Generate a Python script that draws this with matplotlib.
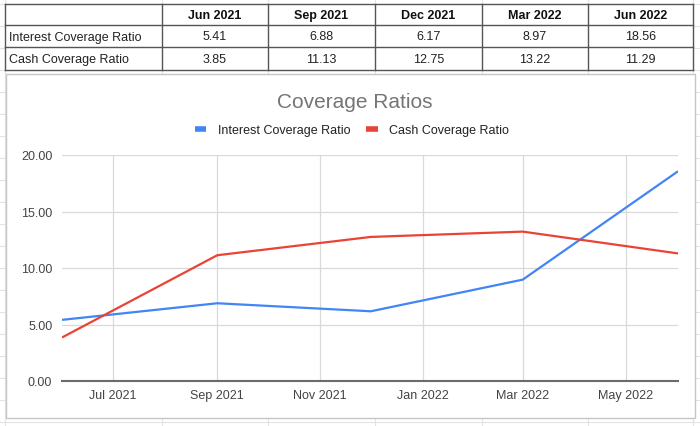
import datetime as dt
import matplotlib
matplotlib.use("Agg")
import matplotlib.pyplot as plt
import matplotlib.dates as mdates
from matplotlib.lines import Line2D
from matplotlib.patches import Rectangle

plt.rcParams['font.family'] = ['Liberation Sans', 'DejaVu Sans']

# data
periods = ['Jun 2021', 'Sep 2021', 'Dec 2021', 'Mar 2022', 'Jun 2022']
dates = [dt.date(2021, 6, 1), dt.date(2021, 9, 1), dt.date(2021, 12, 1),
         dt.date(2022, 3, 1), dt.date(2022, 6, 1)]
interest_cov = [5.41, 6.88, 6.17, 8.97, 18.56]
cash_cov = [3.85, 11.13, 12.75, 13.22, 11.29]
series_names = ['Interest Coverage Ratio', 'Cash Coverage Ratio']

W, H = 700, 427
fig = plt.figure(figsize=(W / 100, H / 100), dpi=100)


def fx(px):
    return px / W


def fy(py):
    return 1 - py / H


def hline(y, x0, x1, color, lw=1.0, z=2):
    fig.add_artist(Line2D([fx(x0), fx(x1)], [fy(y), fy(y)], color=color,
                          lw=lw, zorder=z))


def vline(x, y0, y1, color, lw=1.0, z=2):
    fig.add_artist(Line2D([fx(x), fx(x)], [fy(y0), fy(y1)], color=color,
                          lw=lw, zorder=z))


# spreadsheet background grid
sheet_grid = '#e2e3e3'
col_edges = [5, 162, 268, 375, 482, 588, 693]
for x in col_edges:
    vline(x, 0, H, sheet_grid, 0.8, z=0)
for y in range(5, H, 22):
    hline(y, 0, W, sheet_grid, 0.8, z=0)

# table
row_edges = [5, 26, 48, 71]
fig.add_artist(Rectangle((fx(5), fy(71)), fx(693 - 5), (71 - 5) / H,
                         facecolor='white', edgecolor='none', zorder=1))
for y in row_edges:
    hline(y, 5, 693, '#555555', 1.0)
for x in col_edges:
    vline(x, 5, 71, '#555555', 1.0)

for i, p in enumerate(periods):
    xc = (col_edges[i + 1] + col_edges[i + 2]) / 2
    fig.text(fx(xc), fy(16), p, ha='center', va='center', fontsize=9,
             fontweight='bold', color='#111111')
    fig.text(fx(xc), fy(37.5), f'{interest_cov[i]:.2f}', ha='center',
             va='center', fontsize=9, color='#222222')
    fig.text(fx(xc), fy(60), f'{cash_cov[i]:.2f}', ha='center',
             va='center', fontsize=9, color='#222222')
fig.text(fx(9), fy(37.5), series_names[0], ha='left', va='center',
         fontsize=9, color='#222222')
fig.text(fx(9), fy(60), series_names[1], ha='left', va='center',
         fontsize=9, color='#222222')

# chart box
fig.add_artist(Rectangle((fx(6), fy(419)), fx(695 - 6), (419 - 75) / H,
                         facecolor='white', edgecolor='#c6c6c6', lw=1.0,
                         zorder=2))

ax = fig.add_axes([fx(62), fy(382), fx(678 - 62), (382 - 156) / H], zorder=3)
ax.patch.set_alpha(0)

blue = '#4285F4'
red = '#EA4335'
ax.plot(dates, interest_cov, color=blue, lw=1.6, label=series_names[0],
        solid_capstyle='butt', zorder=3)
ax.plot(dates, cash_cov, color=red, lw=1.6, label=series_names[1],
        solid_capstyle='butt', zorder=3)

ax.set_xlim(dates[0], dates[-1])
ax.set_ylim(0, 20)
ax.set_yticks([0, 5, 10, 15, 20])
ax.yaxis.set_major_formatter(matplotlib.ticker.FormatStrFormatter('%.2f'))
ax.xaxis.set_major_locator(mdates.MonthLocator(bymonth=[1, 3, 5, 7, 9, 11]))
ax.xaxis.set_major_formatter(mdates.DateFormatter('%b %Y'))
ax.tick_params(length=0, labelsize=9, labelcolor='#444444')
ax.tick_params(axis='y', pad=7)
ax.tick_params(axis='x', pad=6)
ax.grid(True, color='#d9d9d9', lw=0.9)
ax.set_axisbelow(True)
for s in ['top', 'right', 'left']:
    ax.spines[s].set_visible(False)
ax.spines['bottom'].set_color('#6b6b6b')
ax.spines['bottom'].set_linewidth(1.5)
ax.spines['bottom'].set_zorder(2.5)

fig.text(fx(355), fy(103), 'Coverage Ratios', ha='center', va='center',
         fontsize=15, color='#757575', zorder=4)
leg = fig.legend(handles=ax.get_lines(), loc='center',
                 bbox_to_anchor=(fx(352), fy(131)), ncol=2, frameon=False,
                 fontsize=9, handlelength=0.9, handletextpad=0.9,
                 columnspacing=1.3, labelcolor='#222222')
for h in leg.legend_handles:
    h.set_linewidth(4)
leg.set_zorder(4)

fig.savefig('out.png', dpi=100)
